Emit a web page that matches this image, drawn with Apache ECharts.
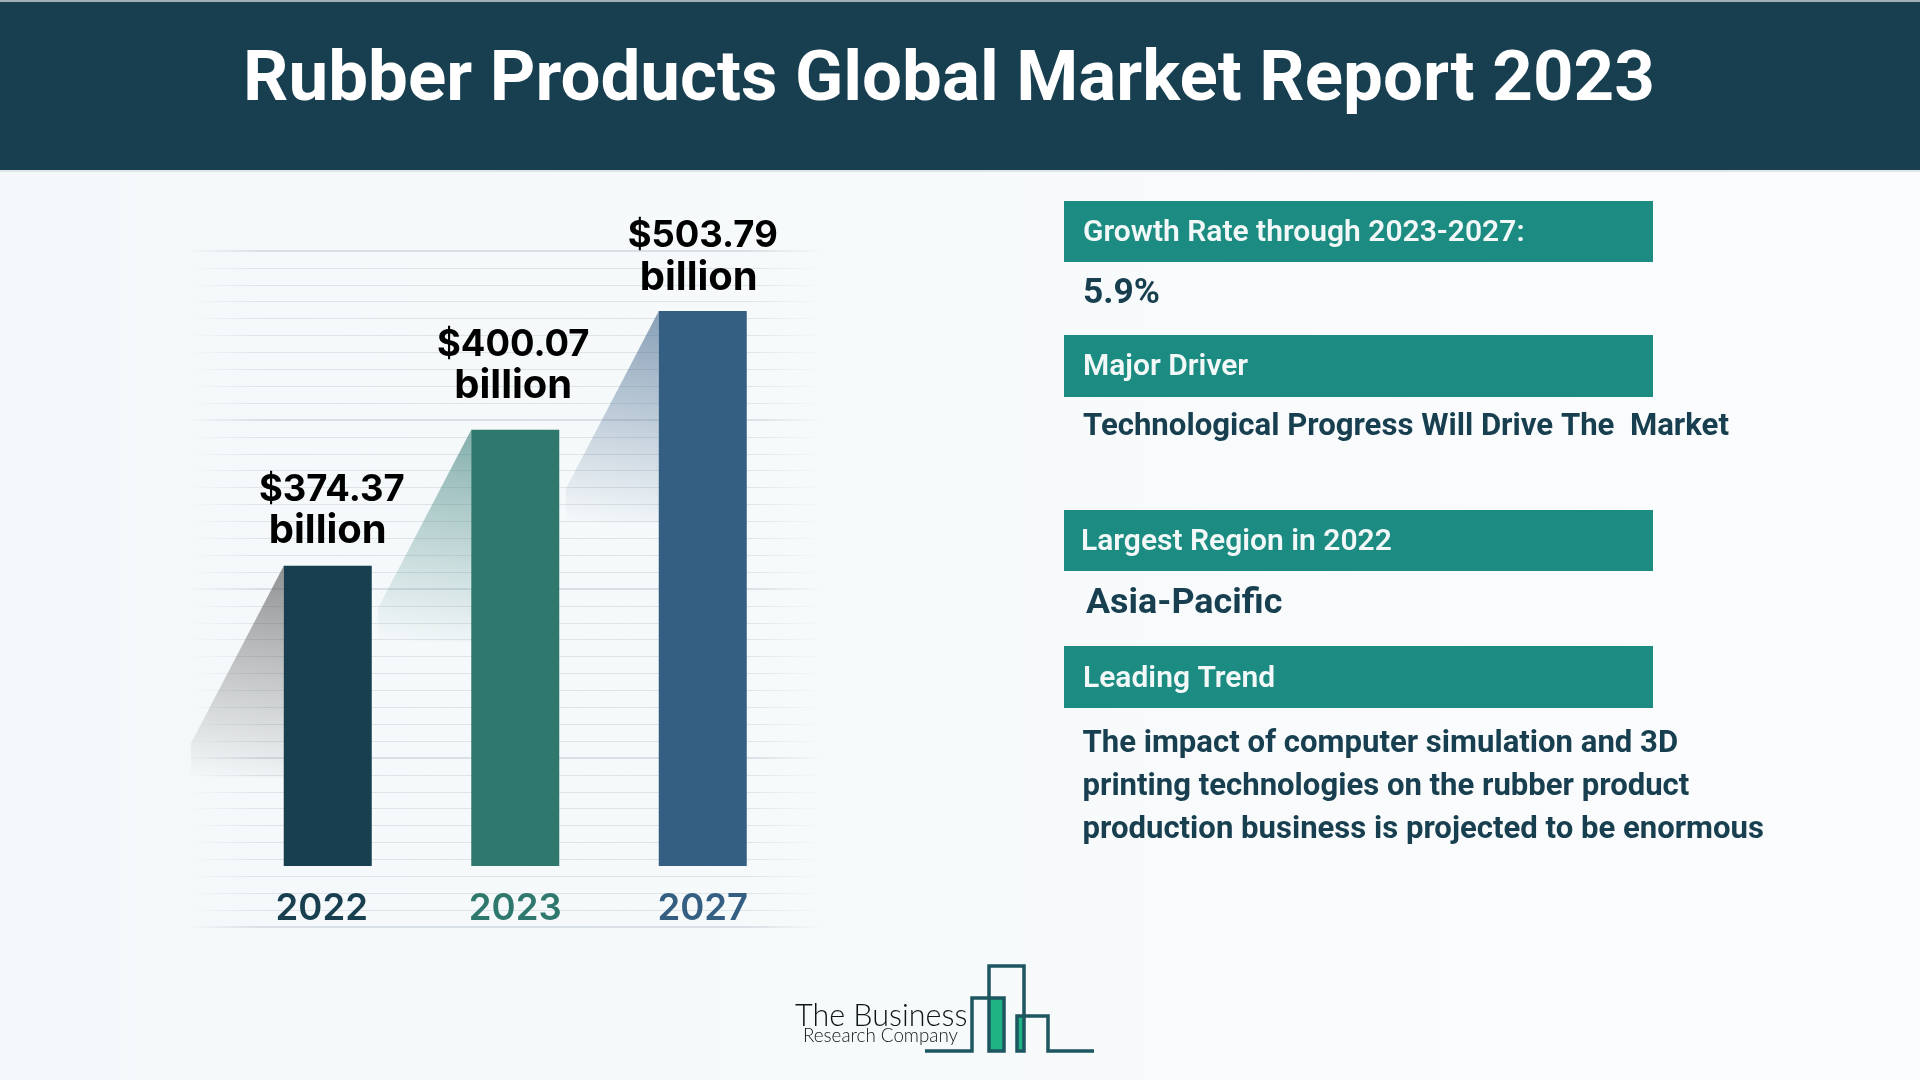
<!DOCTYPE html>
<html><head><meta charset="utf-8">
<style>html,body{margin:0;padding:0;background:#f8fafc}#c{width:1920px;height:1080px}</style>
<script src="https://cdn.jsdelivr.net/npm/echarts@6/dist/echarts.min.js"></script>
</head><body><div id="c"></div>
<script>
const titleText = 'Rubber Products Global Market Report 2023';
const categories = ['2022', '2023', '2027'];
const marketBillions = [374.37, 400.07, 503.79];
// The source graphic's bars are not to scale with their printed values, so the
// drawn heights are read separately, as a percentage of the tallest bar.
const drawnLevels = [54.1, 78.6, 100];
const barColors = ['#173f50', '#2e786d', '#355f82'];
const shadeColors = ['90,90,90', '70,135,130', '75,110,145'];
const headings = ['Growth Rate through 2023-2027:', 'Major Driver', 'Largest Region in 2022', 'Leading Trend'];
const details = ['5.9%', 'Technological Progress Will Drive The  Market', 'Asia-Pacific',
  'The impact of computer simulation and 3D\nprinting technologies on the rubber product\nproduction business is projected to be enormous'];
const logoWords = ['The Business', 'Research Company'];

const panels = [
  {y: 201, h: 61, tx: 1083, ty: 233, dx: 1083, dy: 294, size: 35.4},
  {y: 335, h: 62, tx: 1083, ty: 367, dx: 1083, dy: 427, size: 31.15},
  {y: 510, h: 61, tx: 1081, ty: 542, dx: 1086, dy: 604, size: 35.9},
  {y: 646, h: 62, tx: 1083, ty: 679, dx: 1082.5, dy: 787, size: 31.1}
];
const F = 'Roboto, sans-serif';
const graphics = [
  {type: 'rect', silent: true, z: -10, shape: {x: 0, y: 0, width: 1920, height: 170}, style: {fill: '#173f50'}},
  {type: 'rect', silent: true, z: -10, shape: {x: 0, y: 0, width: 1920, height: 2}, style: {fill: '#9fb0b8'}},
  {type: 'rect', silent: true, z: -10, shape: {x: 0, y: 170, width: 1920, height: 2}, style: {fill: '#dfe5e8'}}
];
panels.forEach((p, i) => {
  graphics.push({type: 'rect', silent: true, shape: {x: 1064, y: p.y, width: 589, height: p.h}, style: {fill: '#1c8c82'}});
  graphics.push({type: 'text', silent: true, style: {x: p.tx, y: p.ty, text: headings[i], fill: '#f2f8f7', font: '600 30px ' + F, verticalAlign: 'middle'}});
  graphics.push({type: 'text', silent: true, style: {x: p.dx, y: p.dy, text: details[i], fill: '#173f50', font: '700 ' + p.size + 'px ' + F, verticalAlign: 'middle', lineHeight: 43}});
});
// logo
const logoLine = {stroke: '#1d5560', lineWidth: 3.5, fill: 'none', lineJoin: 'miter'};
graphics.push(
  {type: 'rect', silent: true, shape: {x: 989, y: 998, width: 15, height: 53}, style: {fill: '#1fb283'}},
  {type: 'rect', silent: true, shape: {x: 1017, y: 1016, width: 7, height: 35}, style: {fill: '#1fb283'}},
  {type: 'polyline', silent: true, shape: {points: [[925, 1051], [972, 1051], [972, 998], [1004, 998], [1004, 1051], [989, 1051], [989, 966], [1024, 966], [1024, 1051], [1017, 1051], [1017, 1016], [1048, 1016], [1048, 1051], [1094, 1051]]}, style: logoLine},
  {type: 'text', silent: true, style: {x: 795, y: 1032, text: logoWords[0], fill: '#0c1619', font: '300 30.5px Lato, sans-serif', verticalAlign: 'bottom'}},
  {type: 'text', silent: true, style: {x: 803, y: 1045, text: logoWords[1], fill: '#0c1619', font: '300 18.8px Lato, sans-serif', verticalAlign: 'bottom'}}
);

const yearRich = {};
barColors.forEach((c, i) => {
  yearRich['y' + i] = {color: c, fontFamily: 'Inter, sans-serif', fontWeight: 600, fontSize: 36.5,
    padding: i === 0 ? [0, 12, 0, 0] : 0};
});
const labelOffsets = [[4, 4], [-2, -5], [0, 5]];
const billionPad = [8, 0, 8];
const fadeLine = (a) => new echarts.graphic.LinearGradient(185, 0, 825, 0, [
  {offset: 0, color: 'rgba(205,215,222,0)'},
  {offset: 0.12, color: 'rgba(205,215,222,' + a + ')'},
  {offset: 0.88, color: 'rgba(205,215,222,' + a + ')'},
  {offset: 1, color: 'rgba(205,215,222,0)'}], true);

const option = {
  animation: false,
  backgroundColor: new echarts.graphic.LinearGradient(0, 0, 1, 0, [
    {offset: 0, color: '#f4f8fa'}, {offset: 0.5, color: '#f7fafb'}, {offset: 1, color: '#fbfcfe'}]),
  title: {text: titleText, left: 944, top: 41.5, textAlign: 'center',
    textStyle: {color: '#ffffff', fontFamily: F, fontWeight: 700, fontSize: 70.9}},
  graphic: graphics,
  grid: [
    {left: 190, right: 1100, top: 251, bottom: 153},
    {left: 234, width: 562.5, top: 311, bottom: 214}
  ],
  xAxis: [
    {gridIndex: 0, type: 'category', data: categories, show: false},
    {gridIndex: 1, type: 'category', data: categories,
      axisLine: {show: false}, axisTick: {show: false}, splitLine: {show: false},
      axisLabel: {margin: 25, interval: 0, formatter: (v) => '{y' + categories.indexOf(v) + '|' + v + '}', rich: yearRich}}
  ],
  yAxis: [
    {gridIndex: 0, type: 'value', min: 0, max: 40, interval: 10,
      axisLine: {show: false}, axisTick: {show: false}, axisLabel: {show: false},
      splitLine: {show: true, lineStyle: {color: fadeLine(0.95), width: 1.5}},
      minorTick: {show: false, splitNumber: 10},
      minorSplitLine: {show: true, lineStyle: {color: fadeLine(0.6), width: 1}}},
    {gridIndex: 1, type: 'value', min: 0, max: 100, show: false, splitLine: {show: false}}
  ],
  series: [
    {type: 'custom', xAxisIndex: 1, yAxisIndex: 1, z: 1, silent: true,
      data: drawnLevels.map((v, i) => [i, v]),
      renderItem(params, api) {
        const top = api.coord([api.value(0), api.value(1)]);
        const bw = 88, L = top[0] - bw / 2, y = top[1];
        const col = shadeColors[params.dataIndex];
        return {type: 'polygon', shape: {points: [[L, y], [L - 93, y + 178], [L - 93, y + 212], [L, y + 212]]},
          style: {fill: new echarts.graphic.LinearGradient(0.35, 0, 0, 1, [
            {offset: 0, color: 'rgba(' + col + ',0.62)'},
            {offset: 0.5, color: 'rgba(' + col + ',0.3)'},
            {offset: 1, color: 'rgba(' + col + ',0)'}])}};
      }},
    {type: 'bar', xAxisIndex: 1, yAxisIndex: 1, z: 2, barWidth: 88,
      data: drawnLevels.map((v, i) => ({value: v, itemStyle: {color: barColors[i]},
        label: {offset: labelOffsets[i],
          rich: {v: {fontSize: 36.4, fontWeight: 700, fontFamily: 'Inter, sans-serif', color: '#000', lineHeight: 41},
                 b: {fontSize: 40, fontWeight: 700, fontFamily: 'Inter, sans-serif', color: '#000', lineHeight: 41,
                     padding: [0, billionPad[i], 0, 0]}}}})),
      label: {show: true, position: 'top', distance: 18, align: 'center',
        formatter: (p) => '{v|$' + marketBillions[p.dataIndex].toFixed(2) + '}\n{b|billion}'}}
  ]
};
echarts.init(document.getElementById('c')).setOption(option);
</script></body></html>
